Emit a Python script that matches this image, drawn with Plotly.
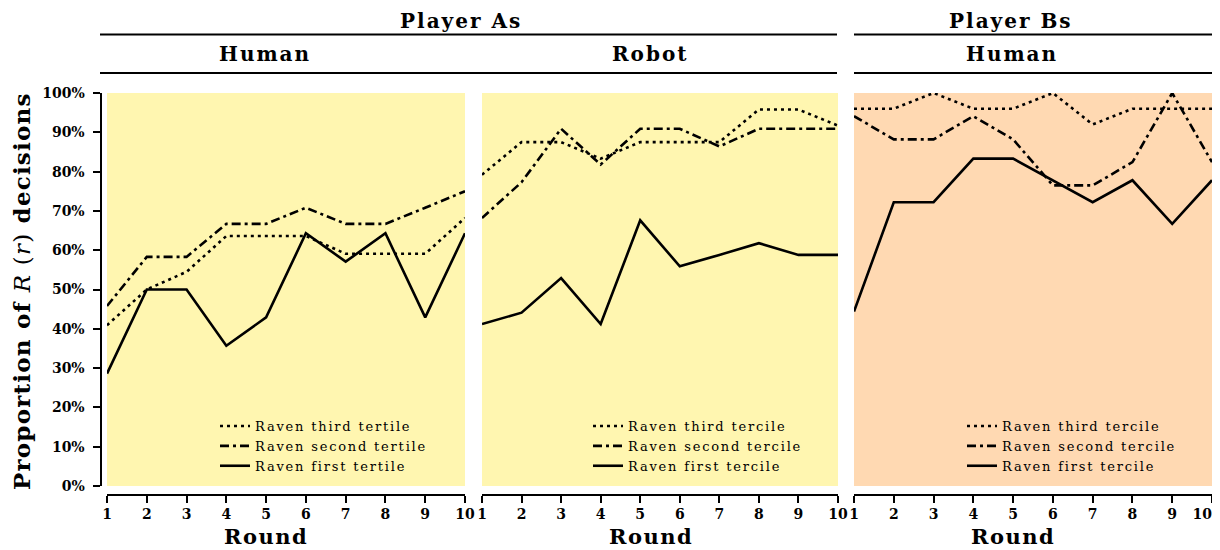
import plotly.graph_objects as go

W, H = 1220, 550
OFF = 8  # page body margin offset in the browser

rounds = list(range(1, 11))
round_labels = [str(r) for r in rounds]
# last label of the right-most panel is nudged left so it stays inside the page
round_labels_edge = round_labels[:-1] + [round_labels[-1] + "\u00a0" * 4]

# Player As - Human
a_human_third = [0.409, 0.500, 0.545, 0.636, 0.636, 0.636, 0.591, 0.591, 0.591, 0.682]
a_human_second = [0.458, 0.583, 0.583, 0.667, 0.667, 0.708, 0.667, 0.667, 0.708, 0.750]
a_human_first = [0.286, 0.500, 0.500, 0.357, 0.429, 0.643, 0.571, 0.643, 0.429, 0.643]
# Player As - Robot
a_robot_third = [0.792, 0.875, 0.875, 0.833, 0.875, 0.875, 0.875, 0.958, 0.958, 0.917]
a_robot_second = [0.682, 0.773, 0.909, 0.818, 0.909, 0.909, 0.864, 0.909, 0.909, 0.909]
a_robot_first = [0.412, 0.441, 0.529, 0.412, 0.676, 0.559, 0.588, 0.618, 0.588, 0.588]
# Player Bs - Human
b_human_third = [0.96, 0.96, 1.00, 0.96, 0.96, 1.00, 0.92, 0.96, 0.96, 0.96]
b_human_second = [0.941, 0.882, 0.882, 0.941, 0.882, 0.765, 0.765, 0.824, 1.000, 0.824]
b_human_first = [0.444, 0.722, 0.722, 0.833, 0.833, 0.778, 0.722, 0.778, 0.667, 0.778]

names_tertile = ["Raven third tertile", "Raven second tertile", "Raven first tertile"]
names_tercile = ["Raven third tercile", "Raven second tercile", "Raven first tercile"]
y_ticks = [i / 10 for i in range(11)]
y_tick_labels = [f"{i * 10}%" for i in range(11)]


def fx(X):
    return (X - OFF) / W


def fy(Y):
    return 1 - (Y - OFF) / H


def spaced(txt, px, bold=False):
    inner = f"<b>{txt}</b>" if bold else txt
    return f'<span style="letter-spacing:{px}px">{inner}</span>'


panels = [
    dict(series=[a_human_third, a_human_second, a_human_first], names=names_tertile,
         px=(107, 465), bg="rgb(255,246,176)", legend_x=215, strip="Human", strip_cx=265,
         ticktext=round_labels),
    dict(series=[a_robot_third, a_robot_second, a_robot_first], names=names_tercile,
         px=(482, 838), bg="rgb(255,246,176)", legend_x=588, strip="Robot", strip_cx=650,
         ticktext=round_labels),
    dict(series=[b_human_third, b_human_second, b_human_first], names=names_tercile,
         px=(854, 1212), bg="rgb(255,217,178)", legend_x=962, strip="Human", strip_cx=1012,
         ticktext=round_labels_edge),
]
dashes = ["3px,4px", "9px,4px,3px,4px", "solid"]

SERIF = "DejaVu Serif"
fig = go.Figure()

y_dom = [fy(486), fy(93)]
x_axis_pos = fy(494.5)

for i, p in enumerate(panels):
    k = "" if i == 0 else str(i + 1)
    leg = "legend" + k
    for ys, nm, ds in zip(p["series"], p["names"], dashes):
        fig.add_trace(go.Scatter(
            x=rounds, y=ys, mode="lines", name=spaced(nm, 1.8),
            line=dict(color="black", width=2.6, dash=ds),
            xaxis="x" + k, yaxis="y" + k, legend=leg, showlegend=True,
        ))
    fig.update_layout(**{
        "xaxis" + k: dict(
            domain=[fx(p["px"][0]), fx(p["px"][1])], range=[1, 10],
            anchor="free", position=x_axis_pos,
            tickmode="array", tickvals=rounds, ticktext=p["ticktext"],
            ticks="outside", ticklen=7, tickwidth=2, tickcolor="black",
            showline=True, linecolor="black", linewidth=2,
            showgrid=False, zeroline=False, automargin=False,
            ticklabeloverflow="allow",
            tickfont=dict(family=SERIF, size=14, color="black", weight="bold"),
        ),
        "yaxis" + k: dict(
            domain=y_dom, range=[0, 1], showgrid=False, zeroline=False, automargin=False,
            anchor="free" if i == 0 else "x" + k,
            **(dict(position=fx(100.5), tickmode="array", tickvals=y_ticks,
                    ticktext=y_tick_labels, ticks="outside", ticklen=7, tickwidth=2,
                    tickcolor="black", showline=True, linecolor="black", linewidth=2,
                    ticklabelstandoff=5, ticklabeloverflow="allow",
                    tickfont=dict(family=SERIF, size=14, color="black", weight="bold"))
               if i == 0 else dict(showline=False, showticklabels=False, ticks="")),
        ),
        leg: dict(
            x=fx(p["legend_x"]), xanchor="left", y=fy(481), yanchor="bottom",
            bgcolor="rgba(0,0,0,0)", borderwidth=0, tracegroupgap=0,
            font=dict(family=SERIF, size=13, color="black"),
            itemwidth=30,
        ),
    })
    fig.add_shape(type="rect", xref="x" + k + " domain", yref="y" + k + " domain",
                  x0=0, x1=1, y0=0, y1=1, fillcolor=p["bg"], line=dict(width=0),
                  layer="below")
    # strip label
    fig.add_annotation(text=spaced(p["strip"], 2, bold=True), xref="paper", yref="paper",
                       x=fx(p["strip_cx"]), y=fy(54), xanchor="center", yanchor="middle",
                       showarrow=False, font=dict(family=SERIF, size=20, color="black"))
    # x axis title
    fig.add_annotation(text=spaced("Round", 1.5, bold=True), xref="paper", yref="paper",
                       x=fx(p["strip_cx"] + 1), y=fy(536), xanchor="center",
                       yanchor="middle", showarrow=False,
                       font=dict(family=SERIF, size=21, color="black"))

# outer strips
for label, cx, x0, x1 in [("Player As", 461, 100, 837), ("Player Bs", 1011, 854, 1212)]:
    fig.add_annotation(text=spaced(label, 2, bold=True), xref="paper", yref="paper",
                       x=fx(cx), y=1, xanchor="center", yanchor="top", borderpad=0,
                       showarrow=False, font=dict(family=SERIF, size=20, color="black"))
    for yy in (34.5, 73):
        fig.add_shape(type="line", xref="paper", yref="paper",
                      x0=fx(x0), x1=fx(x1), y0=fy(yy), y1=fy(yy),
                      line=dict(color="black", width=2))

# y axis title
fig.add_annotation(
    text='<span style="letter-spacing:1.2px"><b>Proportion of </b><i>R</i> (<i>r</i>)<b> decisions</b></span>',
    xref="paper", yref="paper", x=fx(21), y=fy(291), xanchor="center", yanchor="middle",
    textangle=-90, showarrow=False,
    font=dict(family=SERIF, size=23, color="black"))

fig.update_layout(
    width=W, height=H, margin=dict(l=0, r=0, t=0, b=0, pad=0, autoexpand=False),
    paper_bgcolor="white", plot_bgcolor="white",
)
fig.write_html("out.html")
